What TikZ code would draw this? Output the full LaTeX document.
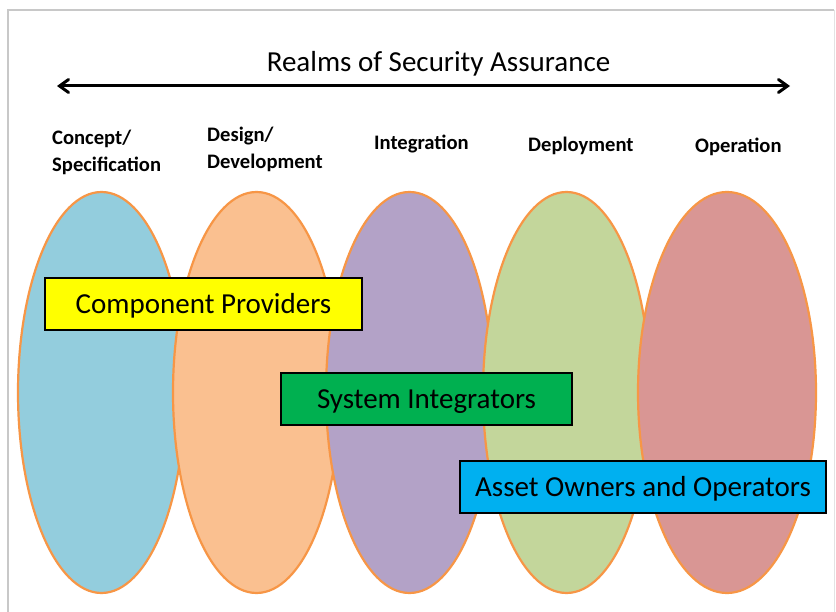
\documentclass[tikz,border=0pt]{standalone}
\usepackage{fontspec}
\setmainfont{Carlito}
\usetikzlibrary{shapes.geometric,arrows.meta}
\definecolor{eblue}{HTML}{93CDDD}
\definecolor{eorange}{HTML}{FAC090}
\definecolor{epurple}{HTML}{B3A2C7}
\definecolor{egreen}{HTML}{C3D69B}
\definecolor{ered}{HTML}{D99694}
\definecolor{estroke}{HTML}{F79646}
\definecolor{byellow}{HTML}{FFFF00}
\definecolor{bgreen}{HTML}{00B050}
\definecolor{bcyan}{HTML}{00B0F0}
\definecolor{frame}{HTML}{C8C8C8}
\begin{document}
\begin{tikzpicture}[x=1pt,y=-1pt,
  realm/.style={ellipse, draw=estroke, line width=2.2pt, minimum width=167pt, minimum height=401pt, inner sep=0pt},
  rolebox/.style={rectangle, draw=black, line width=2.8pt, minimum height=52pt, inner sep=0pt, text height=18.6pt, text depth=0pt, font=\fontsize{29}{34}\selectfont},
  phase/.style={anchor=base west, inner sep=0pt, font=\fontsize{20.6}{24}\selectfont\bfseries},
  title/.style={anchor=base, inner sep=0pt, font=\fontsize{29}{34}\selectfont}]
\useasboundingbox (0,0) rectangle (836,612);
\fill[white] (0,0) rectangle (836,612);
\draw[frame, line width=1.5pt] (8,612) -- (8,10) -- (834,10);
\draw[frame!50, line width=1pt] (834,10) -- (834,612);
% ellipses
\node[realm, fill=eblue] (e1) at (101.5,392.5) {};
\node[realm, fill=eorange] (e2) at (256.5,392.5) {};
\node[realm, fill=epurple] (e3) at (409.5,392.5) {};
\node[realm, fill=egreen] (e4) at (566.5,392.5) {};
\node[realm, fill=ered, minimum width=178pt] (e5) at (727,392.5) {};
% title and arrow
\node[title] (t) at (438.5,72) {Realms of Security Assurance};
\coordinate (al) at (57,86);
\coordinate (ar) at (790,86);
\draw[line width=3pt, {Straight Barb[length=9pt,width=13pt,line cap=round]}-{Straight Barb[length=9pt,width=13pt,line cap=round]}] (al) -- (ar);
% phase headings
\node[phase] (p1a) at (52,145) {Concept/};
\node[phase] (p1b) at (52,172) {Specification};
\node[phase] (p2a) at (207,142) {Design/};
\node[phase] (p2b) at (207,169) {Development};
\node[phase] (p3) at (374,150) {Integration};
\node[phase] (p4) at (528,152) {Deployment};
\node[phase] (p5) at (695,153) {Operation};
% role boxes
\node[rolebox, fill=byellow, minimum width=317pt] (cp) at (203.5,304) {Component Providers};
\node[rolebox, fill=bgreen, minimum width=291pt] (si) at (426.5,399) {System Integrators};
\node[rolebox, fill=bcyan, minimum width=366pt] (ao) at (643,487) {Asset Owners and Operators};
\end{tikzpicture}
\end{document}
